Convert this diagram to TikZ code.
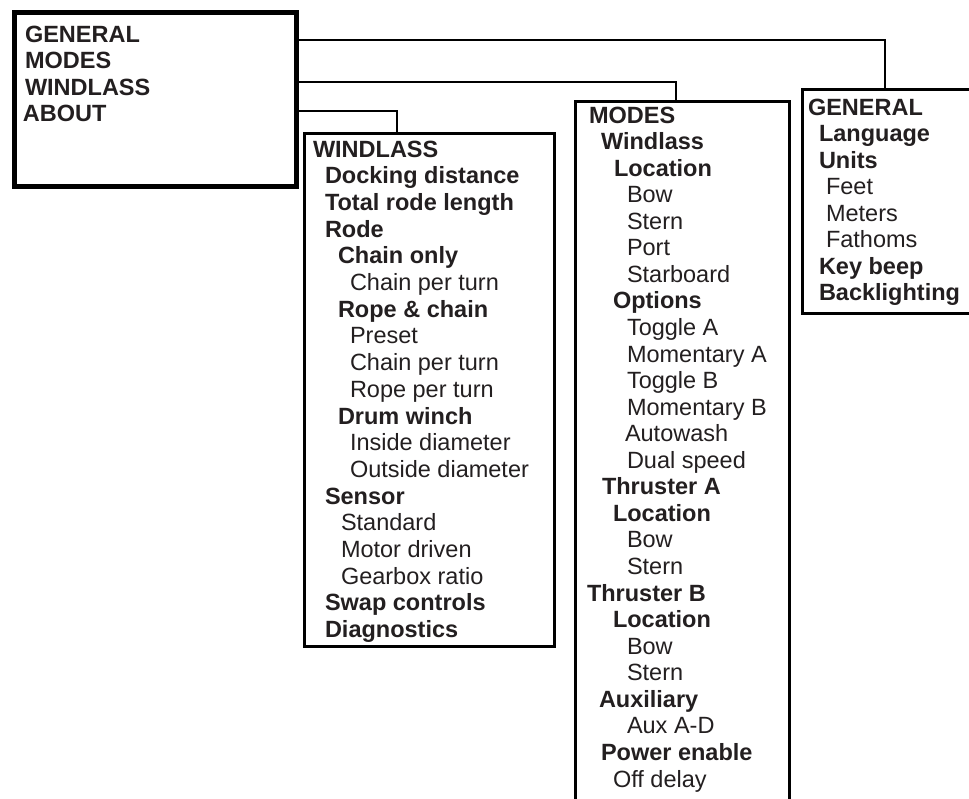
\documentclass[tikz,border=0pt]{standalone}
\usepackage{fontspec}
\setmainfont{Liberation Sans}
\definecolor{ink}{RGB}{35,31,32}
\tikzset{
  item/.style={anchor=base west, inner sep=0pt, outer sep=0pt, text=ink},
  menubox/.style={draw=black, line width=2.6pt, anchor=north west, inner sep=0pt, fill=none},
  rootbox/.style={draw=black, line width=5pt, anchor=north west, inner sep=0pt},
  conn/.style={draw=black, line width=2.4pt}
}
\begin{document}
\begin{tikzpicture}[x=1pt,y=-1pt,font=\fontsize{23.5}{27}\selectfont]
\clip (0,0) rectangle (969,798);
\fill[white] (0,0) rectangle (969,798);
% boxes
\node[rootbox, minimum width=282pt, minimum height=174pt] (main) at (12,10) {};
\node[menubox, minimum width=250pt, minimum height=513pt] (wbox) at (303,132) {};
\node[menubox, minimum width=214pt, minimum height=740pt] (mbox) at (574,100) {};
\node[menubox, minimum width=200pt, minimum height=224pt] (gbox) at (801,88) {};
% connector guides
\coordinate (y1) at (0,40);
\coordinate (y2) at (0,82);
\coordinate (y3) at (0,111);
\coordinate (x1) at (885,0);
\coordinate (x2) at (676,0);
\coordinate (x3) at (397,0);
\draw[conn] (main.east |- y1) -| (gbox.north -| x1);
\draw[conn] (main.east |- y2) -| (mbox.north -| x2);
\draw[conn] (main.east |- y3) -| (wbox.north -| x3);
% root menu
\foreach \x/\t [count=\i] in {25/GENERAL, 25/MODES, 25/WINDLASS, 23/ABOUT}
  \node[item] (r\i) at ({\x},{42+(\i-1)*26.5}) {\textbf{\t}};
% windlass menu
\foreach \x/\t [count=\i] in {
  313/\textbf{WINDLASS},
  325/\textbf{Docking distance},
  325/\textbf{Total rode length},
  325/\textbf{Rode},
  338/\textbf{Chain only},
  350/Chain per turn,
  338/\textbf{Rope \& chain},
  350/Preset,
  350/Chain per turn,
  350/Rope per turn,
  338/\textbf{Drum winch},
  350/Inside diameter,
  350/Outside diameter,
  325/\textbf{Sensor},
  341/Standard,
  341/Motor driven,
  341/Gearbox ratio,
  325/\textbf{Swap controls},
  325/\textbf{Diagnostics}}
  \node[item] (w\i) at ({\x},{157+(\i-1)*26.7}) {\t};
% modes menu
\foreach \x/\t [count=\i] in {
  589/\textbf{MODES},
  601/\textbf{Windlass},
  614/\textbf{Location},
  627/Bow,
  627/Stern,
  627/Port,
  627/Starboard,
  613/\textbf{Options},
  627/Toggle A,
  627/Momentary A,
  627/Toggle B,
  627/Momentary B,
  625/Autowash,
  627/Dual speed,
  602/\textbf{Thruster A},
  613/\textbf{Location},
  627/Bow,
  627/Stern,
  587/\textbf{Thruster B},
  613/\textbf{Location},
  627/Bow,
  627/Stern,
  599/\textbf{Auxiliary},
  627/Aux A-D,
  601/\textbf{Power enable},
  613/Off delay}
  \node[item] (m\i) at ({\x},{123+(\i-1)*26.56}) {\t};
% general menu
\foreach \x/\t [count=\i] in {
  808/\textbf{GENERAL},
  819/\textbf{Language},
  819/\textbf{Units},
  826/Feet,
  826/Meters,
  826/Fathoms,
  819/\textbf{Key beep},
  819/\textbf{Backlighting}}
  \node[item] (g\i) at ({\x},{115+(\i-1)*26.5}) {\t};
\end{tikzpicture}
\end{document}
